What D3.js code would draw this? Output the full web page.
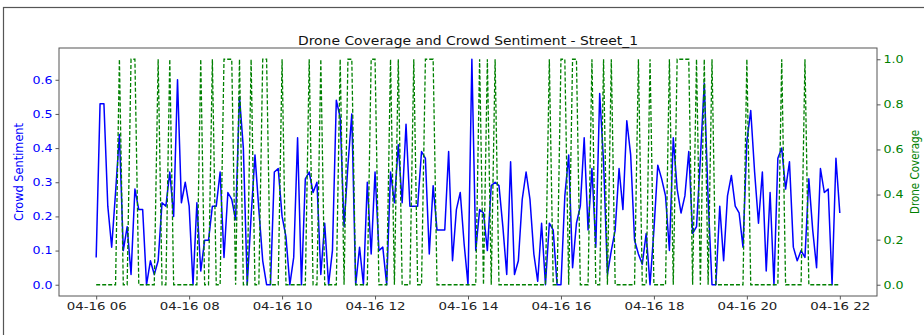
<!DOCTYPE html>
<html>
<head>
<meta charset="utf-8">
<script src="https://cdn.jsdelivr.net/npm/d3@7"></script>
<style>
  body { margin: 0; background: #fff; }
  svg { display: block; font-family: 'DejaVu Sans', sans-serif; }
</style>
</head>
<body>
<div id="chart"></div>
<script>
// readings every 5 minutes, 06:00 -> 22:00
const startTime = '2024-04-16 06:00';
const endTime = '2024-04-16 22:00';
const stepMinutes = 5;

const crowdSentiment = [
  0.08, 0.53, 0.53, 0.23, 0.11, 0.27, 0.44, 0.10, 0.17, 0.03,
  0.28, 0.22, 0.22, 0.00, 0.07, 0.03, 0.07, 0.24, 0.23, 0.33,
  0.20, 0.60, 0.24, 0.30, 0.23, 0.00, 0.24, 0.04, 0.13, 0.13,
  0.23, 0.23, 0.33, 0.08, 0.27, 0.25, 0.19, 0.55, 0.40, 0.00,
  0.20, 0.38, 0.22, 0.07, 0.00, 0.00, 0.33, 0.34, 0.20, 0.14,
  0.00, 0.08, 0.43, 0.00, 0.31, 0.33, 0.27, 0.30, 0.03, 0.18,
  0.00, 0.10, 0.54, 0.49, 0.17, 0.35, 0.50, 0.00, 0.11, 0.00,
  0.30, 0.09, 0.33, 0.10, 0.11, 0.00, 0.33, 0.24, 0.41, 0.24,
  0.47, 0.23, 0.23, 0.23, 0.39, 0.37, 0.09, 0.29, 0.16, 0.16,
  0.16, 0.39, 0.07, 0.22, 0.27, 0.12, 0.00, 0.66, 0.10, 0.22,
  0.21, 0.10, 0.29, 0.30, 0.29, 0.17, 0.03, 0.36, 0.03, 0.07,
  0.25, 0.33, 0.25, 0.09, 0.01, 0.18, 0.00, 0.18, 0.16, 0.00,
  0.00, 0.26, 0.38, 0.05, 0.18, 0.23, 0.43, 0.16, 0.34, 0.11,
  0.56, 0.36, 0.03, 0.10, 0.16, 0.34, 0.22, 0.48, 0.38, 0.13,
  0.09, 0.06, 0.15, 0.00, 0.16, 0.35, 0.31, 0.26, 0.10, 0.43,
  0.28, 0.21, 0.26, 0.39, 0.15, 0.17, 0.37, 0.59, 0.25, 0.00,
  0.00, 0.23, 0.07, 0.26, 0.32, 0.23, 0.21, 0.11, 0.42, 0.51,
  0.33, 0.18, 0.33, 0.04, 0.27, 0.00, 0.37, 0.40, 0.28, 0.36,
  0.11, 0.07, 0.10, 0.08, 0.31, 0.16, 0.05, 0.34, 0.27, 0.28,
  0.00, 0.37, 0.21
];

const droneCoverage = [
  0, 0, 0, 0, 0, 0, 1, 0, 0, 1,  1, 0, 0, 0, 0, 0, 1, 0, 0, 1,
  0, 0, 0, 0, 0, 0, 0, 1, 0, 0,  1, 0, 0, 1, 1, 1, 0, 1, 0, 0,
  1, 0, 0, 1, 1, 0, 0, 0, 1, 0,  0, 0, 0, 0, 0, 1, 0, 0, 1, 0,
  0, 0, 0, 1, 0, 1, 1, 0, 0, 0,  0, 1, 1, 0, 0, 0, 1, 0, 1, 0,
  0, 0, 1, 0, 0, 1, 1, 1, 0, 0,  0, 0, 0, 0, 0, 0, 0, 0, 0, 1,
  0, 1, 0, 1, 0, 0, 0, 0, 0, 0,  0, 0, 0, 0, 0, 0, 0, 1, 0, 0,
  1, 1, 0, 1, 1, 0, 0, 0, 1, 0,  0, 1, 0, 1, 0, 0, 0, 0, 0, 0,
  1, 0, 0, 1, 0, 0, 0, 0, 1, 0,  1, 1, 1, 1, 0, 1, 0, 1, 0, 1,
  0, 0, 0, 0, 0, 0, 0, 0, 1, 0,  0, 0, 0, 0, 0, 0, 0, 1, 0, 0,
  0, 0, 0, 1, 0, 0, 0, 0, 0, 0,  0, 0, 0
];

const leftTicks = [0.0, 0.1, 0.2, 0.3, 0.4, 0.5, 0.6];
const rightTicks = [0.0, 0.2, 0.4, 0.6, 0.8, 1.0];
const titleText = 'Drone Coverage and Crowd Sentiment - Street_1';

const width = 924, height = 335;
const margin = { top: 48, right: 47, bottom: 39, left: 59 };
const plotW = width - margin.left - margin.right;
const plotH = height - margin.top - margin.bottom;

const parse = d3.timeParse('%Y-%m-%d %H:%M');
const times = d3.timeMinute.every(stepMinutes).range(parse(startTime), d3.timeMinute.offset(parse(endTime), 1));

// matplotlib style 5% padding
const pad = (lo, hi) => { const p = (hi - lo) * 0.05; return [lo - p, hi + p]; };
const t0 = times[0], t1 = times[times.length - 1];
const xDom = pad(+t0, +t1).map(d => new Date(d));

const x = d3.scaleTime().domain(xDom).range([margin.left, margin.left + plotW]);
const yL = d3.scaleLinear().domain(pad(d3.min(crowdSentiment), d3.max(crowdSentiment))).range([margin.top + plotH, margin.top]);
const yR = d3.scaleLinear().domain(pad(d3.min(droneCoverage), d3.max(droneCoverage))).range([margin.top + plotH, margin.top]);

const svg = d3.select('#chart').append('svg').attr('width', width).attr('height', height);
svg.append('rect').attr('width', width).attr('height', height).attr('fill', '#fff');

// outer figure frame (cut off at right / bottom)
svg.append('rect').attr('x', 3.5).attr('y', 7.5).attr('width', width + 10).attr('height', height + 10)
  .attr('fill', 'none').attr('stroke', '#555').attr('stroke-width', 1.2);

// stretch text horizontally like the reference
const stretch = (sel, k) => sel.each(function () {
  const len = this.getComputedTextLength();
  d3.select(this).attr('textLength', len * k).attr('lengthAdjust', 'spacingAndGlyphs');
});

svg.append('clipPath').attr('id', 'plotclip').append('rect')
  .attr('x', margin.left).attr('y', margin.top).attr('width', plotW).attr('height', plotH);

const g = svg.append('g').attr('clip-path', 'url(#plotclip)');

const lineBlue = d3.line().x((d, i) => x(times[i])).y(d => yL(d));
const lineGreen = d3.line().x((d, i) => x(times[i])).y(d => yR(d));

g.append('path').datum(crowdSentiment)
  .attr('d', lineBlue).attr('fill', 'none').attr('stroke', 'blue').attr('stroke-width', 1.5)
  .attr('stroke-linejoin', 'round');

g.append('path').datum(droneCoverage)
  .attr('d', lineGreen).attr('fill', 'none').attr('stroke', 'green').attr('stroke-width', 1.3)
  .attr('stroke-dasharray', '4,2');

// axes
const xAxis = d3.axisBottom(x).ticks(d3.timeHour.every(2)).tickFormat(d3.timeFormat('%m-%d %H')).tickSizeOuter(0).tickSize(3.5).tickPadding(3);
const leftAxis = d3.axisLeft(yL).tickValues(leftTicks).tickFormat(d3.format('.1f')).tickSizeOuter(0).tickSize(3.5).tickPadding(3);
const rightAxis = d3.axisRight(yR).tickValues(rightTicks).tickFormat(d3.format('.1f')).tickSizeOuter(0).tickSize(3.5).tickPadding(3);

const gx = svg.append('g').attr('transform', `translate(0,${margin.top + plotH})`).call(xAxis);
const gl = svg.append('g').attr('transform', `translate(${margin.left},0)`).call(leftAxis);
const gr = svg.append('g').attr('transform', `translate(${margin.left + plotW},0)`).call(rightAxis);

[gx, gl, gr].forEach(a => {
  a.select('.domain').remove();
  a.selectAll('line').attr('stroke', '#444').attr('stroke-width', 0.9);
  a.selectAll('text').attr('font-family', 'DejaVu Sans').attr('font-size', 10.5);
});
gx.selectAll('text').attr('fill', '#222');
gl.selectAll('text').attr('fill', 'blue');
gr.selectAll('text').attr('fill', 'green');
stretch(gx.selectAll('text'), 1.27);
stretch(gl.selectAll('text'), 1.2);
stretch(gr.selectAll('text'), 1.2);

// spines
svg.append('rect').attr('x', margin.left).attr('y', margin.top).attr('width', plotW).attr('height', plotH)
  .attr('fill', 'none').attr('stroke', '#555').attr('stroke-width', 1);

// title + axis labels
svg.append('text').attr('x', margin.left + plotW / 2).attr('y', 45)
  .attr('text-anchor', 'middle').attr('font-size', 12).attr('fill', '#111')
  .attr('textLength', 340).attr('lengthAdjust', 'spacingAndGlyphs').text(titleText);

svg.append('text').attr('transform', `translate(23,${margin.top + plotH / 2}) rotate(-90)`)
  .attr('text-anchor', 'middle').attr('font-size', 12).attr('fill', 'blue')
  .attr('textLength', 98).attr('lengthAdjust', 'spacingAndGlyphs').text('Crowd Sentiment');

svg.append('text').attr('transform', `translate(919,${margin.top + plotH / 2}) rotate(-90)`)
  .attr('text-anchor', 'middle').attr('font-size', 12).attr('fill', 'green')
  .attr('textLength', 84).attr('lengthAdjust', 'spacingAndGlyphs').text('Drone Coverage');
</script>
</body>
</html>
